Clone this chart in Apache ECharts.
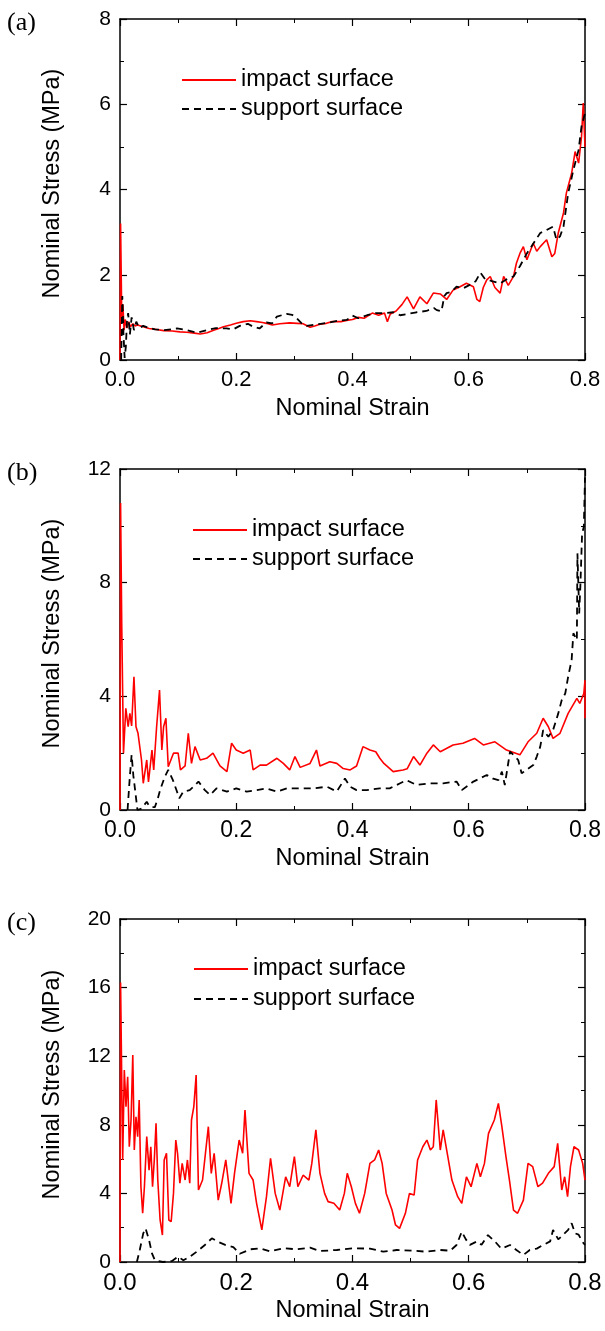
<!DOCTYPE html>
<html>
<head>
<meta charset="utf-8">
<script src="https://cdn.jsdelivr.net/npm/echarts@6.0.0/dist/echarts.min.js"></script>
<style>
  html, body { margin: 0; padding: 0; background: #fff; }
  #container { width: 605px; height: 1331px; }
</style>
</head>
<body>
<div id="container"></div>
<script>
// strain / stress pairs
var impactA = [[0,0],[0.001,3.2],[0.003,1.0],[0.005,1.3],[0.007,0.7],[0.009,0.95],[0.012,0.75],[0.015,0.9],[0.018,0.78],[0.022,0.85],[0.026,0.8],[0.03,0.82],[0.04,0.78],[0.05,0.74],[0.06,0.72],[0.075,0.69],[0.09,0.68],[0.103,0.66],[0.115,0.65],[0.128,0.63],[0.138,0.61],[0.15,0.64],[0.161,0.7],[0.17,0.74],[0.178,0.78],[0.19,0.82],[0.2,0.86],[0.212,0.9],[0.224,0.92],[0.235,0.9],[0.245,0.88],[0.252,0.86],[0.262,0.82],[0.275,0.85],[0.292,0.87],[0.305,0.86],[0.315,0.85],[0.327,0.77],[0.335,0.8],[0.344,0.84],[0.355,0.86],[0.365,0.9],[0.38,0.9],[0.39,0.93],[0.4,0.95],[0.41,1.0],[0.42,0.98],[0.434,1.1],[0.445,1.05],[0.455,1.1],[0.46,0.9],[0.465,1.08],[0.475,1.15],[0.485,1.3],[0.494,1.48],[0.505,1.2],[0.516,1.48],[0.528,1.32],[0.539,1.57],[0.551,1.55],[0.562,1.42],[0.573,1.64],[0.585,1.72],[0.596,1.8],[0.608,1.72],[0.614,1.42],[0.619,1.37],[0.625,1.7],[0.631,1.88],[0.637,1.96],[0.645,1.7],[0.654,1.57],[0.66,1.96],[0.668,1.75],[0.677,1.96],[0.682,2.27],[0.688,2.5],[0.694,2.66],[0.7,2.35],[0.711,2.74],[0.717,2.55],[0.723,2.66],[0.734,2.82],[0.743,2.42],[0.748,2.5],[0.754,2.98],[0.763,3.45],[0.768,3.92],[0.777,4.38],[0.783,4.89],[0.789,4.62],[0.794,5.24],[0.797,6.03],[0.8,5.0]];
var supportA = [[0.002,0],[0.004,1.5],[0.006,0.6],[0.008,0.05],[0.01,0.3],[0.012,0.9],[0.014,1.1],[0.017,0.6],[0.02,1.0],[0.024,0.7],[0.028,0.9],[0.033,0.75],[0.04,0.8],[0.05,0.75],[0.06,0.72],[0.075,0.7],[0.09,0.72],[0.098,0.74],[0.115,0.7],[0.132,0.64],[0.149,0.7],[0.165,0.75],[0.183,0.74],[0.195,0.72],[0.206,0.8],[0.22,0.85],[0.229,0.78],[0.24,0.74],[0.252,0.88],[0.262,0.86],[0.27,1.02],[0.278,1.05],[0.287,1.08],[0.296,1.06],[0.304,0.98],[0.313,0.85],[0.321,0.8],[0.33,0.82],[0.345,0.85],[0.36,0.88],[0.375,0.92],[0.39,0.94],[0.4,1.04],[0.41,0.98],[0.425,1.05],[0.44,1.1],[0.455,1.1],[0.47,1.12],[0.482,1.05],[0.495,1.08],[0.51,1.12],[0.527,1.15],[0.54,1.22],[0.545,1.17],[0.553,1.14],[0.558,1.5],[0.562,1.57],[0.57,1.6],[0.579,1.72],[0.59,1.68],[0.6,1.75],[0.612,1.85],[0.62,2.05],[0.628,1.9],[0.64,1.85],[0.654,1.8],[0.666,1.9],[0.677,1.96],[0.688,2.2],[0.7,2.5],[0.712,2.75],[0.723,2.98],[0.734,3.05],[0.745,3.13],[0.751,2.82],[0.757,2.9],[0.763,3.13],[0.771,3.91],[0.78,4.46],[0.789,4.93],[0.794,5.48],[0.8,5.79]];

var impactB = [[0,0],[0.001,10.8],[0.003,6.5],[0.006,2.0],[0.01,3.58],[0.014,2.93],[0.017,3.4],[0.02,2.96],[0.024,4.69],[0.0275,2.93],[0.031,2.7],[0.037,1.76],[0.04,0.94],[0.046,1.76],[0.049,0.99],[0.055,2.11],[0.058,1.41],[0.063,2.93],[0.068,4.22],[0.072,2.11],[0.075,2.93],[0.079,3.23],[0.083,1.52],[0.092,2.0],[0.1,2.0],[0.104,1.41],[0.112,1.55],[0.1175,2.7],[0.123,1.64],[0.129,2.23],[0.138,1.76],[0.149,1.82],[0.16,2.0],[0.172,1.55],[0.184,1.35],[0.192,2.35],[0.2,2.11],[0.212,2.0],[0.224,2.11],[0.229,1.41],[0.241,1.58],[0.252,1.58],[0.27,1.82],[0.281,1.64],[0.292,1.41],[0.301,1.88],[0.31,1.5],[0.327,1.64],[0.338,2.11],[0.344,1.55],[0.361,1.7],[0.373,1.64],[0.384,1.46],[0.396,1.41],[0.407,1.55],[0.418,2.23],[0.43,2.11],[0.44,2.05],[0.447,1.82],[0.454,1.64],[0.47,1.35],[0.487,1.41],[0.494,1.45],[0.505,1.88],[0.516,1.58],[0.528,2.0],[0.539,2.29],[0.551,2.05],[0.573,2.29],[0.59,2.35],[0.61,2.52],[0.625,2.29],[0.645,2.4],[0.665,2.11],[0.688,1.94],[0.702,2.4],[0.717,2.7],[0.728,3.23],[0.737,2.93],[0.745,2.52],[0.757,2.7],[0.771,3.4],[0.786,3.93],[0.791,3.75],[0.798,4.1],[0.8,4.57],[0.8,3.23]];
var supportB = [[0.013,0],[0.017,1.2],[0.02,1.94],[0.023,1.2],[0.026,0.7],[0.03,0],[0.037,0.05],[0.046,0.29],[0.05,0.15],[0.055,0.1],[0.06,0.1],[0.065,0.4],[0.069,0.7],[0.077,1.17],[0.083,1.41],[0.091,1.05],[0.098,0.65],[0.102,0.41],[0.109,0.65],[0.12,0.7],[0.128,0.85],[0.135,1.0],[0.146,0.7],[0.155,0.53],[0.166,0.76],[0.184,0.65],[0.2,0.76],[0.218,0.65],[0.235,0.7],[0.252,0.76],[0.27,0.65],[0.287,0.76],[0.31,0.76],[0.333,0.76],[0.356,0.82],[0.373,0.65],[0.387,1.11],[0.396,0.82],[0.407,0.7],[0.424,0.7],[0.447,0.76],[0.464,0.76],[0.482,0.94],[0.493,1.05],[0.51,0.88],[0.533,0.94],[0.556,0.94],[0.579,1.0],[0.588,0.7],[0.608,1.0],[0.631,1.23],[0.642,1.1],[0.651,1.05],[0.657,1.35],[0.662,0.88],[0.671,2.05],[0.677,1.94],[0.685,1.76],[0.691,1.29],[0.699,1.41],[0.711,1.58],[0.717,1.88],[0.723,2.23],[0.728,2.81],[0.737,2.58],[0.745,2.81],[0.754,3.4],[0.76,3.87],[0.766,4.1],[0.771,4.69],[0.777,5.28],[0.78,6.22],[0.786,5.98],[0.787,9.03],[0.79,6.92],[0.792,7.86],[0.795,9.73],[0.798,9.97],[0.8,11.7]];

var impactC = [[0,0],[0.001,16.3],[0.0046,5.95],[0.0074,11.2],[0.0103,9.06],[0.0132,10.8],[0.016,6.72],[0.019,8.28],[0.022,12.07],[0.0246,6.53],[0.0275,8.47],[0.0304,7.31],[0.033,9.45],[0.036,4.39],[0.039,2.84],[0.042,4.39],[0.046,7.31],[0.05,5.36],[0.053,6.72],[0.056,4.39],[0.059,5.95],[0.062,8.09],[0.065,4.78],[0.069,2.45],[0.073,1.57],[0.076,5.95],[0.08,6.34],[0.084,2.45],[0.088,2.35],[0.092,4.0],[0.096,7.11],[0.099,6.34],[0.103,4.59],[0.107,5.75],[0.112,4.78],[0.116,5.95],[0.12,4.59],[0.123,8.28],[0.127,9.06],[0.131,10.9],[0.135,4.2],[0.142,4.78],[0.152,7.89],[0.157,5.17],[0.162,6.34],[0.169,3.61],[0.175,4.59],[0.182,5.95],[0.191,3.42],[0.197,5.17],[0.205,7.11],[0.211,6.34],[0.215,8.86],[0.222,5.17],[0.229,4.78],[0.235,3.42],[0.244,1.87],[0.252,3.81],[0.259,6.05],[0.267,4.0],[0.275,3.03],[0.285,4.97],[0.292,4.39],[0.3,6.15],[0.306,4.39],[0.315,5.06],[0.325,4.78],[0.33,5.75],[0.337,7.7],[0.344,5.17],[0.352,4.0],[0.358,3.52],[0.368,3.42],[0.378,3.03],[0.386,4.0],[0.391,5.17],[0.398,4.39],[0.405,3.42],[0.412,2.84],[0.421,4.0],[0.43,5.75],[0.438,5.95],[0.445,6.53],[0.451,5.75],[0.458,4.0],[0.468,3.03],[0.474,2.16],[0.481,1.96],[0.491,2.84],[0.498,4.0],[0.506,3.9],[0.512,5.95],[0.521,6.72],[0.528,7.11],[0.534,6.53],[0.539,6.72],[0.544,9.45],[0.551,6.53],[0.556,7.7],[0.564,6.15],[0.571,4.78],[0.581,3.81],[0.588,3.42],[0.596,4.97],[0.604,4.39],[0.614,5.75],[0.62,4.97],[0.627,5.75],[0.634,7.5],[0.644,8.28],[0.651,9.25],[0.657,7.89],[0.664,6.15],[0.67,4.78],[0.677,3.03],[0.684,2.84],[0.694,3.61],[0.702,5.75],[0.71,5.56],[0.719,4.39],[0.727,4.6],[0.737,5.17],[0.747,5.56],[0.753,6.92],[0.76,4.2],[0.765,4.97],[0.77,3.81],[0.775,5.56],[0.781,6.72],[0.789,6.53],[0.796,5.75],[0.8,4.78]];
var supportC = [[0.029,0],[0.034,0.7],[0.04,1.67],[0.044,1.96],[0.05,1.28],[0.055,0.5],[0.06,0.1],[0.074,0],[0.089,0.05],[0.1,0.31],[0.109,0.1],[0.12,0.3],[0.132,0.6],[0.146,0.99],[0.158,1.38],[0.169,1.17],[0.181,1.0],[0.195,0.87],[0.206,0.48],[0.224,0.74],[0.241,0.8],[0.258,0.62],[0.281,0.8],[0.304,0.74],[0.327,0.84],[0.344,0.64],[0.373,0.7],[0.401,0.8],[0.43,0.78],[0.453,0.6],[0.476,0.7],[0.504,0.66],[0.527,0.6],[0.551,0.7],[0.568,0.66],[0.579,0.99],[0.588,1.77],[0.595,1.32],[0.602,1.0],[0.614,1.2],[0.622,1.0],[0.633,1.57],[0.645,1.2],[0.656,0.78],[0.671,0.99],[0.682,0.7],[0.694,0.41],[0.705,0.7],[0.717,0.78],[0.728,0.99],[0.74,1.2],[0.745,1.87],[0.754,1.32],[0.762,1.57],[0.771,1.87],[0.777,2.26],[0.783,1.67],[0.789,1.6],[0.795,1.2],[0.8,0.99]];

var panelLabels = ['(a)', '(b)', '(c)'];
var yMax = [8, 12, 20];
var yStep = [2, 4, 4];
var seriesNames = ['impact surface', 'support surface'];

var sans = 'Liberation Sans, Arial, sans-serif';
var panels = [
  { top: 19, height: 341, xFont: 22, legendLeft: 181, legendTop: 68, gap: 5, impact: impactA, support: supportA },
  { top: 469, height: 341, xFont: 23, legendLeft: 192, legendTop: 518, gap: 5, impact: impactB, support: supportB },
  { top: 919, height: 343, xFont: 24, legendLeft: 193, legendTop: 957, gap: 6, impact: impactC, support: supportC }
];

var option = {
  animation: false,
  backgroundColor: '#fff',
  grid: [], xAxis: [], yAxis: [], series: [], legend: [], graphic: []
};

function frameAxis(extra) {
  var ax = {
    type: 'value',
    axisLine: { show: true, onZero: false, lineStyle: { color: '#000', width: 1.5 } },
    axisTick: { show: true, inside: true, length: 7, lineStyle: { color: '#000', width: 1.2 } },
    minorTick: { show: true, splitNumber: 2, length: 4, lineStyle: { color: '#000', width: 1 } },
    splitLine: { show: false },
    axisLabel: { show: false }
  };
  return Object.assign(ax, extra);
}

panels.forEach(function (p, i) {
  option.grid.push({ left: 120, width: 465, top: p.top, height: p.height });
  // bottom + top x axes
  option.xAxis.push(frameAxis({
    gridIndex: i, position: 'bottom', min: 0, max: 0.8, interval: 0.2,
    name: 'Nominal Strain', nameLocation: 'middle', nameGap: 37,
    nameTextStyle: { fontFamily: sans, fontSize: 23.5, color: '#000' },
    axisLabel: { show: true, margin: 9, color: '#000', fontFamily: sans, fontSize: p.xFont,
      formatter: function (v) { return v.toFixed(1); } }
  }));
  option.xAxis.push(frameAxis({ gridIndex: i, position: 'top', min: 0, max: 0.8, interval: 0.2 }));
  // left + right y axes
  option.yAxis.push(frameAxis({
    gridIndex: i, position: 'left', min: 0, max: yMax[i], interval: yStep[i],
    name: 'Nominal Stress (MPa)', nameLocation: 'middle', nameGap: 55,
    nameTextStyle: { fontFamily: sans, fontSize: 23.5, color: '#000', padding: [0, 0, 0, 12] },
    axisLabel: { show: true, margin: 9, color: '#000', fontFamily: sans, fontSize: 21 }
  }));
  option.yAxis.push(frameAxis({ gridIndex: i, position: 'right', min: 0, max: yMax[i], interval: yStep[i] }));

  option.series.push({
    name: seriesNames[0], type: 'line', xAxisIndex: 2 * i, yAxisIndex: 2 * i,
    symbol: 'none', data: p.impact, z: 3,
    lineStyle: { color: '#ff0000', width: 1.6 }, itemStyle: { color: '#ff0000' }
  });
  option.series.push({
    name: seriesNames[1], type: 'line', xAxisIndex: 2 * i, yAxisIndex: 2 * i,
    symbol: 'none', data: p.support, z: 4,
    lineStyle: { color: '#000', width: 1.8, type: [7, 5] }, itemStyle: { color: '#000' }
  });

  option.legend.push({
    data: seriesNames, orient: 'vertical', left: p.legendLeft, top: p.legendTop,
    padding: 0, itemWidth: 54, itemHeight: 12, itemGap: p.gap, selectedMode: false,
    itemStyle: { opacity: 0 },
    textStyle: { fontFamily: sans, fontSize: 23.5, lineHeight: 24, color: '#000' }
  });

  option.graphic.push({
    type: 'text', left: 7, top: p.top - 9,
    style: { text: panelLabels[i], fontFamily: 'Liberation Serif, Times New Roman, serif', fontSize: 26, fill: '#000' }
  });
});

var myChart = echarts.init(document.getElementById('container'));
myChart.setOption(option);
</script>
</body>
</html>
